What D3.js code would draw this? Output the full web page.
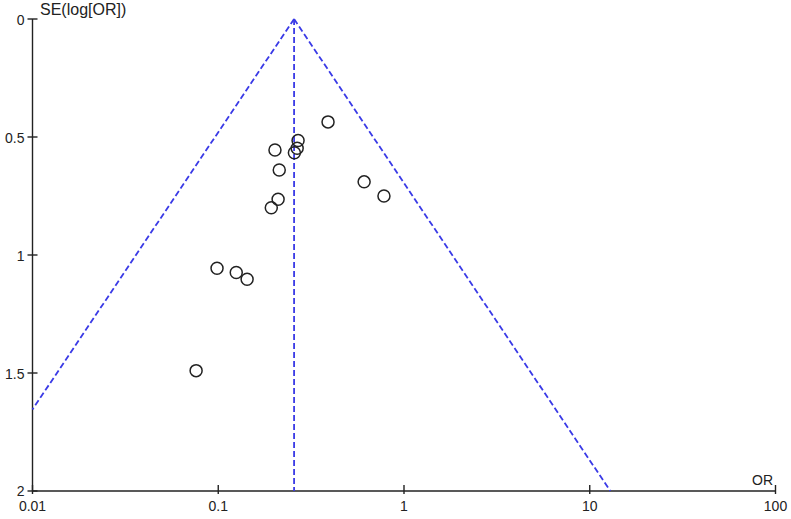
<!DOCTYPE html>
<html>
<head>
<meta charset="utf-8">
<script src="https://cdn.jsdelivr.net/npm/d3@7"></script>
<style>
  body { margin: 0; background: #fff; }
  text { font-family: "Liberation Sans", Arial, sans-serif; font-size: 14px; fill: #222; }
</style>
</head>
<body>
<svg id="chart" width="791" height="519"></svg>
<script>
// Study estimates (odds ratio and its standard error)
const studyOR = [0.39, 0.269, 0.266, 0.257, 0.202, 0.213, 0.61, 0.78, 0.21, 0.193, 0.0985, 0.125, 0.143, 0.076];
const studySE = [0.436, 0.515, 0.548, 0.567, 0.555, 0.64, 0.69, 0.75, 0.764, 0.80, 1.056, 1.074, 1.103, 1.49];

const pooledOR = 0.256;
const xTicks = [0.01, 0.1, 1, 10, 100];
const yTicks = [0, 0.5, 1, 1.5, 2];

const svg = d3.select("#chart");

const x = d3.scaleLog().domain([0.01, 100]).range([32.5, 775.5]);
const y = d3.scaleLinear().domain([0, 2]).range([19, 491]);

const axisColor = "#222";
const funnelColor = "#3a3ae6";

// axes lines
svg.append("line")
  .attr("x1", x(0.01)).attr("x2", x(0.01))
  .attr("y1", y(0)).attr("y2", y(2))
  .attr("stroke", axisColor).attr("stroke-width", 1.4);

svg.append("line")
  .attr("x1", x(0.01)).attr("x2", x(100))
  .attr("y1", y(2)).attr("y2", y(2))
  .attr("stroke", axisColor).attr("stroke-width", 1.4);

// y ticks
const yg = svg.append("g");
yTicks.forEach((t) => {
  yg.append("line")
    .attr("x1", x(0.01) - 5).attr("x2", x(0.01) + 5)
    .attr("y1", y(t)).attr("y2", y(t))
    .attr("stroke", axisColor).attr("stroke-width", 1.4);
  yg.append("text")
    .attr("x", x(0.01) - 8)
    .attr("y", y(t) + (t === 2 ? 0 : 1))
    .attr("dy", "0.35em")
    .attr("text-anchor", "end")
    .text(t);
});

// x ticks
const xg = svg.append("g");
xTicks.forEach((t) => {
  xg.append("line")
    .attr("x1", x(t)).attr("x2", x(t))
    .attr("y1", y(2) - 6).attr("y2", y(2) + 3)
    .attr("stroke", axisColor).attr("stroke-width", 1.4);
  xg.append("text")
    .attr("x", x(t))
    .attr("y", y(2) + 20)
    .attr("text-anchor", "middle")
    .text(t);
});

// axis titles
svg.append("text").attr("x", 40).attr("y", 15).style("font-size", "16px").text("SE(log[OR])");
svg.append("text").attr("x", 773).attr("y", 485).attr("text-anchor", "end").text("OR");

// funnel lines (95% pseudo confidence limits)
const lnP = Math.log(pooledOR);
const leftSE = (lnP - Math.log(0.01)) / 1.96;
const funnel = [
  [[pooledOR, 0], [0.01, leftSE]],
  [[pooledOR, 0], [Math.exp(lnP + 1.96 * 2), 2]],
  [[pooledOR, 0], [pooledOR, 2]],
];
const line = d3.line().x((d) => x(d[0])).y((d) => y(d[1]));
svg.append("g")
  .selectAll("path")
  .data(funnel)
  .join("path")
  .attr("d", line)
  .attr("fill", "none")
  .attr("stroke", funnelColor)
  .attr("stroke-width", 1.8)
  .attr("stroke-dasharray", "6,3");

// study points
svg.append("g")
  .selectAll("circle")
  .data(studyOR.map((or, i) => ({ or, se: studySE[i] })))
  .join("circle")
  .attr("cx", (d) => x(d.or))
  .attr("cy", (d) => y(d.se))
  .attr("r", 6)
  .attr("fill", "none")
  .attr("stroke", "#222")
  .attr("stroke-width", 1.5);
</script>
</body>
</html>
